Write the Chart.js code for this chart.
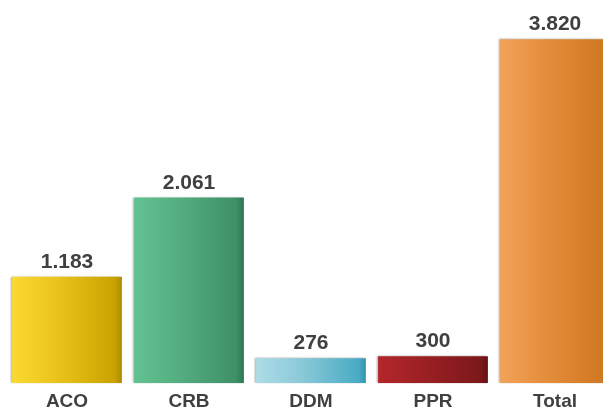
<!DOCTYPE html>
<html>
<head>
<meta charset="utf-8">
<script src="https://cdn.jsdelivr.net/npm/chart.js@4"></script>
<style>
  html, body { margin: 0; padding: 0; background: #fff; overflow: hidden; }
  #wrap { width: 620px; height: 420px; position: relative; }
</style>
</head>
<body>
<div id="wrap"><canvas id="c"></canvas></div>
<script>
const categories = ['ACO', 'CRB', 'DDM', 'PPR', 'Total'];
const values = [1183, 2061, 276, 300, 3820];
const gradientStops = [
  ['#FAD932', '#EAC41C', '#CBA300', '#AE8B00'],
  ['#64C292', '#54AE80', '#3E9067', '#2E7751'],
  ['#AEDCE7', '#8CCAD9', '#4AABC4', '#3795AE'],
  ['#B4262B', '#9C2024', '#7C181A', '#661214'],
  ['#F1A358', '#E58E3C', '#D07822', '#BF6518']
];

function fmt(v) {
  return String(v).replace(/\B(?=(\d{3})+(?!\d))/g, '.');
}

function barFill(context) {
  const chart = context.chart;
  const i = context.dataIndex;
  const stops = gradientStops[i];
  if (!chart.chartArea || !chart.scales.x) return stops[1];
  const meta = chart.getDatasetMeta(context.datasetIndex);
  const el = meta.data[i];
  let x0, x1;
  if (el && el.width) {
    x0 = el.x - el.width / 2; x1 = el.x + el.width / 2;
  } else {
    const cx = chart.scales.x.getPixelForValue(i);
    const w = (chart.chartArea.width / categories.length) * 0.9;
    x0 = cx - w / 2; x1 = cx + w / 2;
  }
  const g = chart.ctx.createLinearGradient(x0, 0, x1, 0);
  g.addColorStop(0, stops[0]);
  g.addColorStop(0.4, stops[1]);
  g.addColorStop(0.93, stops[2]);
  g.addColorStop(1, stops[3]);
  return g;
}

const shadowPlugin = {
  id: 'shadow',
  beforeDatasetsDraw(chart) {
    const ctx = chart.ctx;
    ctx.save();
    ctx.shadowColor = 'rgba(0,0,0,0.35)';
    ctx.shadowBlur = 2;
    ctx.shadowOffsetX = -1.5;
    ctx.shadowOffsetY = 0;
  },
  afterDatasetsDraw(chart) {
    chart.ctx.restore();
  }
};

const labelPlugin = {
  id: 'valueLabels',
  afterDraw(chart) {
    const ctx = chart.ctx;
    const meta = chart.getDatasetMeta(0);
    ctx.save();
    ctx.font = 'bold 21px "Liberation Sans", Arial, sans-serif';
    ctx.fillStyle = '#404040';
    ctx.textAlign = 'center';
    ctx.textBaseline = 'alphabetic';
    meta.data.forEach((el, i) => {
      ctx.fillText(fmt(values[i]), el.x, el.y - 9);
    });
    ctx.restore();
  }
};

new Chart(document.getElementById('c'), {
  type: 'bar',
  data: {
    labels: categories,
    datasets: [{
      data: values,
      backgroundColor: barFill,
      borderWidth: 0,
      barPercentage: 0.9,
      categoryPercentage: 1.0
    }]
  },
  options: {
    responsive: true,
    maintainAspectRatio: false,
    animation: false,
    layout: { padding: { left: 6, right: 4, top: 5, bottom: 0 } },
    plugins: {
      legend: { display: false },
      tooltip: { enabled: false }
    },
    scales: {
      x: {
        grid: { display: false, drawTicks: false },
        border: { display: false },
        ticks: {
          padding: 7,
          color: '#404040',
          font: { family: '"Liberation Sans", Arial, sans-serif', size: 19, weight: 'bold' }
        }
      },
      y: {
        display: false,
        min: 0,
        max: 4200
      }
    }
  },
  plugins: [shadowPlugin, labelPlugin]
});
</script>
</body>
</html>
